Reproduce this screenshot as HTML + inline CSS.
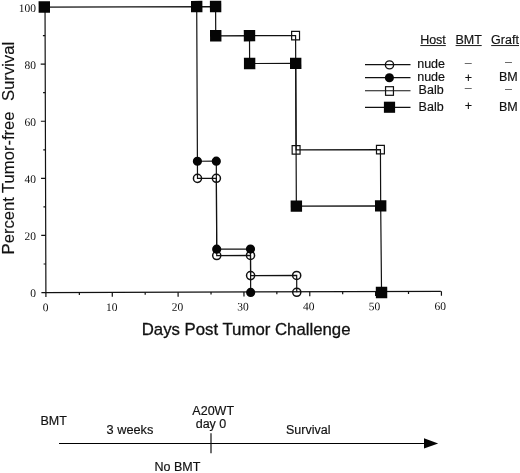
<!DOCTYPE html><html><head><meta charset="utf-8"><style>html,body{margin:0;padding:0;background:#fff}body{width:520px;height:473px;position:relative;overflow:hidden}</style></head><body><svg width="520" height="473" viewBox="0 0 520 473" style="position:absolute;left:0;top:0;will-change:transform">
<g transform="rotate(-0.175 46 292.5)">
<g transform="matrix(1,0,0.0015,1,-0.439,0)">
<rect x="292.80" y="32.06" width="7.9" height="8.5" fill="#fff" stroke="#111" stroke-width="1.2"/>
<rect x="292.80" y="146.41" width="7.9" height="8.5" fill="#fff" stroke="#111" stroke-width="1.2"/>
<rect x="377.13" y="146.41" width="7.9" height="8.5" fill="#fff" stroke="#111" stroke-width="1.2"/>
<circle cx="198.01" cy="178.84" r="4.05" fill="#fff" stroke="#111" stroke-width="1.5"/>
<circle cx="216.9" cy="178.84" r="4.05" fill="#fff" stroke="#111" stroke-width="1.5"/>
<circle cx="216.9" cy="256.06" r="4.05" fill="#fff" stroke="#111" stroke-width="1.5"/>
<circle cx="250.67" cy="256.06" r="4.05" fill="#fff" stroke="#111" stroke-width="1.5"/>
<circle cx="250.67" cy="276.22" r="4.05" fill="#fff" stroke="#111" stroke-width="1.5"/>
<circle cx="296.75" cy="276.22" r="4.05" fill="#fff" stroke="#111" stroke-width="1.5"/>
<circle cx="296.75" cy="293.04" r="4.05" fill="#fff" stroke="#111" stroke-width="1.5"/>
</g>
<g fill="none" stroke="#111" stroke-width="1.2">
<path d="M45.9,7.05 V292.55 H440.88"/>
<path d="M41.4,292.55 H45.9"/>
<path d="M43.699999999999996,264.0 H45.9"/>
<path d="M41.4,235.45 H45.9"/>
<path d="M43.699999999999996,206.9 H45.9"/>
<path d="M41.4,178.35 H45.9"/>
<path d="M43.699999999999996,149.8 H45.9"/>
<path d="M41.4,121.25 H45.9"/>
<path d="M43.699999999999996,92.7 H45.9"/>
<path d="M41.4,64.15 H45.9"/>
<path d="M43.699999999999996,35.6 H45.9"/>
<path d="M41.4,7.05 H45.9"/>
<path d="M45.9,292.55 V297.05"/>
<path d="M79.36,292.55 V295.05"/>
<path d="M112.28,292.55 V297.05"/>
<path d="M145.19,292.55 V295.05"/>
<path d="M178.11,292.55 V297.05"/>
<path d="M211.03,292.55 V295.05"/>
<path d="M243.94,292.55 V297.05"/>
<path d="M276.85,292.55 V295.05"/>
<path d="M309.77,292.55 V297.05"/>
<path d="M342.69,292.55 V295.05"/>
<path d="M375.6,292.55 V297.05"/>
<path d="M408.51,292.55 V295.05"/>
<path d="M441.43,292.55 V297.05"/>
</g>
<g transform="matrix(1,0,0.0015,1,-0.439,0)"><g fill="none" stroke="#111" stroke-width="1.2">
<path d="M46.6,7.05 L216.9,7.05 L216.9,36.31 L250.67,36.31 L250.67,64.15 L296.75,64.15 L296.75,206.9 L381.08,206.9 L381.54,293.55"/>
<path d="M250.67,36.31 L296.75,36.31 L296.75,150.66 L381.08,150.66 L381.08,206.9"/>
<path d="M198.01,7.05 L198.01,161.71 L216.9,161.71 L216.9,249.73 L250.67,249.73 L250.67,293.04"/>
<path d="M198.01,161.71 L198.01,178.84 L216.9,178.84 L216.9,256.06 L250.67,256.06 L250.67,276.22 L296.75,276.22 L296.75,293.04"/>
</g>
<rect x="39.91" y="1.35" width="11.4" height="11.4" fill="#050505"/>
<rect x="192.31" y="1.35" width="11.4" height="11.4" fill="#050505"/>
<rect x="211.20" y="1.35" width="11.4" height="11.4" fill="#050505"/>
<rect x="211.20" y="30.61" width="11.4" height="11.4" fill="#050505"/>
<rect x="244.97" y="30.61" width="11.4" height="11.4" fill="#050505"/>
<rect x="244.97" y="58.45" width="11.4" height="11.4" fill="#050505"/>
<rect x="291.05" y="58.45" width="11.4" height="11.4" fill="#050505"/>
<rect x="291.05" y="201.20" width="11.4" height="11.4" fill="#050505"/>
<rect x="375.38" y="201.20" width="11.4" height="11.4" fill="#050505"/>
<rect x="375.84" y="287.85" width="11.4" height="11.4" fill="#050505"/>
<circle cx="198.01" cy="161.71" r="4.6" fill="#050505"/>
<circle cx="216.9" cy="161.71" r="4.6" fill="#050505"/>
<circle cx="216.9" cy="249.73" r="4.6" fill="#050505"/>
<circle cx="250.67" cy="249.73" r="4.6" fill="#050505"/>
<circle cx="250.67" cy="293.04" r="4.6" fill="#050505"/>
</g>
<g font-family="'Liberation Serif', serif" font-size="11.5" fill="#111">
<text x="36.0" y="296.95" text-anchor="end">0</text>
<text x="36.18" y="239.95" text-anchor="end">20</text>
<text x="36.36" y="182.95" text-anchor="end">40</text>
<text x="36.54" y="125.95" text-anchor="end">60</text>
<text x="36.72" y="68.95000000000002" text-anchor="end">80</text>
<text x="36.9" y="11.95" text-anchor="end">100</text>
<text x="45.5" y="311.15000000000003" text-anchor="middle">0</text>
<text x="111.64" y="311.15000000000003" text-anchor="middle">10</text>
<text x="177.32999999999998" y="311.15000000000003" text-anchor="middle">20</text>
<text x="243.02" y="311.15000000000003" text-anchor="middle">30</text>
<text x="308.71" y="311.15000000000003" text-anchor="middle">40</text>
<text x="374.4" y="311.15000000000003" text-anchor="middle">50</text>
<text x="440.09000000000003" y="311.15000000000003" text-anchor="middle">60</text>
</g>
</g>
<g font-family="'Liberation Sans', sans-serif" fill="#111" stroke="#111" stroke-width="0.3">
<text x="246.1" y="334.6" font-size="16.78" text-anchor="middle">Days Post Tumor Challenge</text>
<text transform="translate(14,254.4) rotate(-90)" font-size="16.6" stroke-width="0.15">Percent Tumor-free</text>
<text transform="translate(14,41.9) rotate(-90)" font-size="16.6" text-anchor="end" stroke-width="0.15">Survival</text>
<g font-size="12.5" stroke-width="0.18">
<text x="433" y="44.2" text-anchor="middle">Host</text>
<text x="468.6" y="44.2" text-anchor="middle">BMT</text>
<text x="505" y="44.2" text-anchor="middle">Graft</text>
<text x="417.2" y="68">nude</text>
<text x="468.3" y="66.6" text-anchor="middle" fill="#555" stroke="none">–</text>
<text x="508.4" y="65.6" text-anchor="middle" fill="#555" stroke="none">–</text>
<text x="417.2" y="81.1">nude</text>
<text x="468.3" y="81.5" text-anchor="middle">+</text>
<text x="508.4" y="81.1" text-anchor="middle">BM</text>
<text x="418.6" y="94.2">Balb</text>
<text x="468.3" y="91.5" text-anchor="middle" fill="#555" stroke="none">–</text>
<text x="508.4" y="92.7" text-anchor="middle" fill="#555" stroke="none">–</text>
<text x="418.6" y="110.5">Balb</text>
<text x="468.3" y="110.0" text-anchor="middle">+</text>
<text x="508.4" y="110.5" text-anchor="middle">BM</text>
</g>
<g font-size="12.5" stroke-width="0.18">
<text x="40.5" y="424.7">BMT</text>
<text x="106.6" y="433.5" font-size="12.75">3 weeks</text>
<text x="213.2" y="415.3" text-anchor="middle">A20WT</text>
<text x="211" y="427.5" text-anchor="middle">day 0</text>
<text x="286" y="433.5">Survival</text>
<text x="154.5" y="470.8">No BMT</text>
</g>
</g>
<g stroke="#111" stroke-width="1.2" fill="none">
<path d="M420.3,45.55 H445.8 M455.6,45.55 H481.7 M491.2,45.55 H519" stroke-width="0.95"/>
<ellipse cx="389.5" cy="64.9" rx="4.1" ry="4.0" fill="#fff" stroke-width="1.4"/>
<rect x="385.55" y="86.7" width="7.9" height="8.6" fill="#fff"/>
<path d="M365,64.55 H410.5"/>
<path d="M365,77.6 H410.5"/>
<path d="M365,90.75 H410.5"/>
<path d="M365,107.3 H410.5"/>
<circle cx="389.4" cy="77.8" r="4.55" fill="#050505" stroke="none"/>
<rect x="383.9" y="101.7" width="11.2" height="11.1" fill="#050505" stroke="none"/>
<path d="M59,443.45 H425" stroke="#000" stroke-width="1.1"/>
<path d="M211,433.2 V453.3"/>
<path d="M438.2,443.45 L424,438.3 V448.6 Z" fill="#050505" stroke="none"/>
</g>
</svg></body></html>
